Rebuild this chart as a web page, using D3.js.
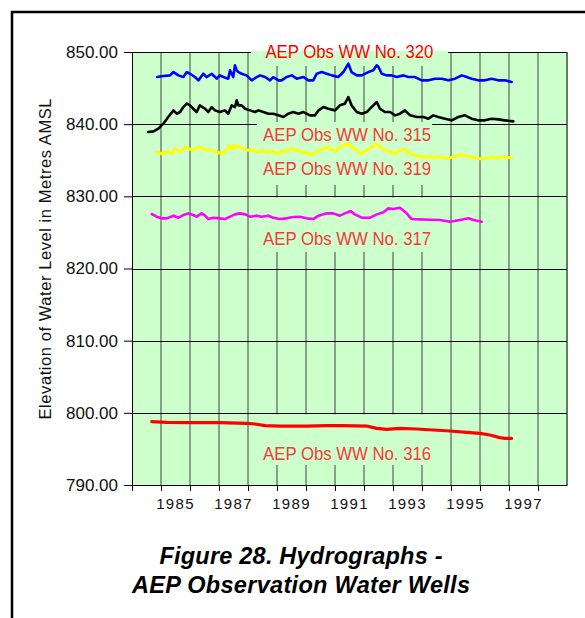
<!DOCTYPE html>
<html>
<head>
<meta charset="utf-8">
<script src="https://cdn.jsdelivr.net/npm/d3@7"></script>
<style>
  body { margin: 0; background: #fff; }
  svg text { font-family: "Liberation Sans", Arial, Helvetica, sans-serif; }
</style>
</head>
<body>
<div id="chart"></div>
<script>
// water levels: [decimal year, metres AMSL]
const ww320 = [[1984.87,846.53],[1985.08,846.67],[1985.31,846.76],[1985.43,847.22],[1985.60,846.76],[1985.77,846.53],[1985.89,847.22],[1986.0,846.99],[1986.17,846.53],[1986.29,846.07],[1986.46,846.99],[1986.57,846.53],[1986.75,846.99],[1986.92,846.30],[1987.03,846.76],[1987.15,846.53],[1987.32,846.30],[1987.38,847.46],[1987.49,846.53],[1987.55,848.15],[1987.61,847.46],[1987.67,847.22],[1987.78,846.99],[1987.95,846.76],[1988.13,846.07],[1988.30,846.53],[1988.41,846.76],[1988.59,846.53],[1988.76,846.07],[1988.87,846.53],[1989.05,846.07],[1989.16,846.07],[1989.33,846.53],[1989.51,846.76],[1989.68,846.30],[1989.91,846.53],[1990.08,846.07],[1990.25,846.07],[1990.37,846.99],[1990.54,847.22],[1990.71,846.99],[1990.89,846.76],[1991.11,846.53],[1991.29,847.22],[1991.46,848.38],[1991.57,847.22],[1991.75,846.76],[1991.92,846.76],[1992.15,847.22],[1992.32,847.46],[1992.44,848.15],[1992.50,847.92],[1992.61,846.99],[1992.78,846.76],[1992.95,846.76],[1993.13,846.53],[1993.36,846.76],[1993.53,846.53],[1993.76,846.53],[1993.99,846.07],[1994.22,846.07],[1994.45,846.30],[1994.68,846.30],[1994.91,846.07],[1995.14,846.30],[1995.37,846.76],[1995.54,846.53],[1995.71,846.30],[1995.94,846.07],[1996.17,846.07],[1996.40,846.30],[1996.63,846.07],[1996.86,846.07],[1997.09,845.84]];

const ww315 = [[1984.56,838.91],[1984.74,839.0],[1984.91,839.37],[1985.08,840.07],[1985.25,840.99],[1985.43,841.91],[1985.54,841.45],[1985.66,841.68],[1985.77,842.37],[1985.89,842.84],[1986.0,842.61],[1986.11,842.14],[1986.23,841.68],[1986.34,842.61],[1986.52,842.14],[1986.63,841.68],[1986.75,842.37],[1986.86,841.91],[1987.03,841.68],[1987.20,841.91],[1987.32,841.45],[1987.44,842.61],[1987.55,842.37],[1987.61,843.30],[1987.67,842.61],[1987.78,842.61],[1987.90,842.14],[1988.07,841.91],[1988.24,841.68],[1988.36,841.91],[1988.53,841.68],[1988.70,841.45],[1988.87,841.45],[1989.05,841.22],[1989.22,840.99],[1989.39,841.45],[1989.56,841.68],[1989.74,841.45],[1989.91,841.68],[1990.14,841.22],[1990.31,841.22],[1990.43,841.91],[1990.60,842.37],[1990.77,842.14],[1991.0,841.91],[1991.17,842.61],[1991.34,842.84],[1991.46,843.76],[1991.57,842.61],[1991.75,841.68],[1991.92,841.45],[1992.09,841.68],[1992.26,842.37],[1992.44,843.07],[1992.55,842.14],[1992.72,841.68],[1992.90,841.68],[1993.07,841.22],[1993.24,841.45],[1993.41,841.91],[1993.59,841.22],[1993.82,840.99],[1994.05,840.99],[1994.22,840.76],[1994.39,841.22],[1994.56,840.99],[1994.79,840.76],[1995.02,840.53],[1995.25,840.99],[1995.48,841.22],[1995.71,840.76],[1995.94,840.53],[1996.17,840.53],[1996.40,840.76],[1996.63,840.66],[1996.86,840.53],[1997.15,840.39]];

const ww319 = [[1984.85,836.14],[1985.02,835.91],[1985.20,836.23],[1985.37,835.91],[1985.48,836.60],[1985.66,836.14],[1985.83,836.83],[1985.94,836.60],[1986.11,836.37],[1986.29,836.83],[1986.40,836.69],[1986.57,836.37],[1986.75,836.37],[1986.92,836.14],[1987.09,835.91],[1987.26,836.37],[1987.38,837.06],[1987.49,836.60],[1987.61,837.06],[1987.72,836.83],[1987.84,836.60],[1988.01,836.37],[1988.18,836.37],[1988.30,836.14],[1988.47,836.37],[1988.64,836.14],[1988.82,836.23],[1988.99,835.91],[1989.16,836.14],[1989.33,836.37],[1989.51,836.60],[1989.68,836.37],[1989.91,836.14],[1990.08,835.91],[1990.25,835.91],[1990.43,836.37],[1990.60,836.60],[1990.77,836.83],[1990.83,836.60],[1991.0,836.23],[1991.17,836.83],[1991.34,837.16],[1991.46,837.29],[1991.57,836.83],[1991.75,836.37],[1991.92,835.91],[1992.09,836.37],[1992.26,836.83],[1992.44,837.29],[1992.55,836.83],[1992.72,836.37],[1992.90,836.14],[1993.07,835.91],[1993.24,836.37],[1993.41,836.51],[1993.59,835.91],[1993.76,835.68],[1993.99,835.45],[1994.33,835.45],[1994.62,835.45],[1994.85,835.22],[1995.08,835.45],[1995.31,835.77],[1995.48,835.68],[1995.71,835.45],[1995.94,835.22],[1996.17,835.22],[1996.40,835.45],[1996.63,835.31],[1996.86,835.45],[1997.09,835.31]];

const ww317 = [[1984.68,827.55],[1984.85,827.18],[1985.02,826.95],[1985.20,826.95],[1985.43,827.32],[1985.60,827.04],[1985.77,827.41],[1985.94,827.64],[1986.11,827.41],[1986.23,827.18],[1986.40,827.64],[1986.52,827.32],[1986.63,826.85],[1986.80,827.04],[1987.03,826.95],[1987.20,826.85],[1987.38,827.18],[1987.55,827.50],[1987.72,827.64],[1987.90,827.50],[1988.07,827.18],[1988.30,827.32],[1988.47,827.18],[1988.70,827.32],[1988.87,827.04],[1989.10,826.85],[1989.33,826.95],[1989.56,827.13],[1989.79,827.18],[1990.02,826.95],[1990.25,826.85],[1990.43,827.32],[1990.71,827.64],[1990.94,827.64],[1991.17,827.32],[1991.34,827.64],[1991.54,827.96],[1991.68,827.50],[1991.92,827.04],[1992.21,827.04],[1992.44,827.50],[1992.67,827.78],[1992.84,828.33],[1993.01,828.24],[1993.24,828.42],[1993.47,827.64],[1993.64,826.85],[1993.93,826.81],[1994.28,826.76],[1994.62,826.72],[1994.97,826.48],[1995.31,826.72],[1995.60,826.95],[1995.77,826.72],[1996.06,826.48]];

const ww316 = [[1984.68,798.77],[1985.20,798.68],[1986.0,798.63],[1987.03,798.63],[1987.95,798.54],[1988.24,798.45],[1988.59,798.22],[1989.10,798.17],[1990.02,798.17],[1990.71,798.22],[1991.29,798.22],[1992.09,798.17],[1992.44,797.85],[1992.78,797.71],[1993.24,797.85],[1993.82,797.76],[1994.39,797.62],[1994.97,797.48],[1995.54,797.30],[1996.0,797.16],[1996.34,796.93],[1996.68,796.56],[1996.86,796.46],[1997.09,796.46]];

const wellNames = ["AEP Obs WW No. 320", "AEP Obs WW No. 315", "AEP Obs WW No. 319", "AEP Obs WW No. 317", "AEP Obs WW No. 316"];
const yTicks = [790, 800, 810, 820, 830, 840, 850];
const yearLabels = [1985, 1987, 1989, 1991, 1993, 1995, 1997];
const captionLines = ["Figure 28. Hydrographs -", "AEP Observation Water Wells"];

const width = 585;
const height = 618;
const plot = { left: 132, top: 52, right: 567, bottom: 485 };

const svg = d3.select("#chart")
              .append("svg")
              .attr("width", width)
              .attr("height", height)

// outer frame (runs off the page on the right and bottom)
svg.append("rect")
   .attr("x", 12).attr("y", 12)
   .attr("width", 700).attr("height", 700)
   .attr("fill", "none")
   .attr("stroke", "#000")
   .attr("stroke-width", 2.5)

const x = d3.scaleLinear().domain([1984, 1999]).range([plot.left, plot.right]);
const y = d3.scaleLinear().domain([790, 850]).range([plot.bottom, plot.top]);

svg.append("rect")
   .attr("x", plot.left).attr("y", plot.top)
   .attr("width", plot.right - plot.left)
   .attr("height", plot.bottom - plot.top)
   .attr("fill", "#ccffcc")

// grid
const grid = svg.append("g").attr("stroke", "#000").attr("stroke-width", 1)
grid.selectAll(".vg")
    .data(d3.range(1985, 2000))
    .enter().append("line")
    .attr("x1", d => x(d)).attr("x2", d => x(d))
    .attr("y1", plot.top).attr("y2", plot.bottom)
    .attr("stroke", "#3a4a3a")
grid.selectAll(".hg")
    .data(yTicks)
    .enter().append("line")
    .attr("x1", plot.left).attr("x2", plot.right)
    .attr("y1", d => Math.round(y(d)) + 0.5).attr("y2", d => Math.round(y(d)) + 0.5)

// label boxes hide the grid behind each well name
const labelLayout = [
  { tx: 1988.6,  ty: 849.2,  box: [1988.1, 1994.9, 850.15, 848.06], fill: "#ff0000" },
  { tx: 1988.52, ty: 837.67, box: [1988.3, 1994.35, 840.3, 836.0], fill: "#f23a3a" },
  { tx: 1988.52, ty: 832.96, box: [1988.3, 1994.5, 836.0, 831.57], fill: "#f23a3a" },
  { tx: 1988.52, ty: 823.26, box: [1988.1, 1994.65, 829.85, 822.3], fill: "#f23a3a" },
  { tx: 1988.52, ty: 793.46, box: [1988.1, 1994.75, 799.8, 792.77], fill: "#f23a3a" }
];

svg.append("g").selectAll("rect")
   .data(labelLayout)
   .enter().append("rect")
   .attr("x", d => x(d.box[0]))
   .attr("y", d => y(d.box[2]))
   .attr("width", d => x(d.box[1]) - x(d.box[0]))
   .attr("height", d => y(d.box[3]) - y(d.box[2]))
   .attr("fill", "#ccffcc")

// axes
const yAxis = d3.axisLeft(y)
                .tickValues(yTicks)
                .tickFormat(d3.format(".2f"))
                .tickSize(8)
                .tickSizeOuter(0)
                .tickPadding(6)
svg.append("g")
   .attr("transform", `translate(${plot.left},0)`)
   .call(yAxis)
   .call(g => g.selectAll("text").attr("font-size", 17).attr("fill", "#111"))
   .call(g => g.selectAll("line, path").attr("stroke", "#000"))

const xAxis = d3.axisBottom(x)
                .tickValues(d3.range(1984, 1999))
                .tickFormat("")
                .tickSize(6)
                .tickSizeOuter(0)
svg.append("g")
   .attr("transform", `translate(0,${plot.bottom})`)
   .call(xAxis)
   .call(g => g.selectAll("line, path").attr("stroke", "#000"))

svg.append("g").selectAll("text")
   .data(yearLabels)
   .enter().append("text")
   .attr("x", d => x(d + 0.5))
   .attr("y", 509)
   .attr("text-anchor", "middle")
   .attr("font-size", 15)
   .attr("letter-spacing", 1.3)
   .attr("fill", "#111")
   .text(d => d)

// right edge of the plot
svg.append("line")
   .attr("x1", plot.right).attr("x2", plot.right)
   .attr("y1", plot.top).attr("y2", plot.bottom)
   .attr("stroke", "#3a4a3a")

// hydrographs
const line = d3.line().x(d => x(d[0])).y(d => y(d[1]))
const series = [
  { data: ww320, color: "#0000ff", w: 2.6 },
  { data: ww315, color: "#000000", w: 2.6 },
  { data: ww319, color: "#ffff00", w: 3 },
  { data: ww317, color: "#ff00ff", w: 2.6 },
  { data: ww316, color: "#ff0000", w: 3.2 }
]
svg.append("g").selectAll("path")
   .data(series)
   .enter().append("path")
   .attr("d", d => line(d.data))
   .attr("fill", "none")
   .attr("stroke", d => d.color)
   .attr("stroke-width", d => d.w)
   .attr("stroke-linejoin", "round")
   .attr("stroke-linecap", "round")

svg.append("g").selectAll("text")
   .data(labelLayout)
   .enter().append("text")
   .attr("x", d => x(d.tx))
   .attr("y", d => y(d.ty))
   .attr("font-size", 18)
   .attr("font-family", "'Open Sans', 'DejaVu Sans', sans-serif")
   .attr("font-weight", 300)
   .attr("fill", d => d.fill)
   .attr("textLength", 168)
   .attr("lengthAdjust", "spacingAndGlyphs")
   .text((d, i) => wellNames[i])

svg.append("text")
   .attr("transform", "translate(51,259) rotate(-90)")
   .attr("text-anchor", "middle")
   .attr("font-size", 16.5)
   .attr("fill", "#111")
   .attr("textLength", 321)
   .attr("lengthAdjust", "spacing")
   .text("Elevation of Water Level in Metres AMSL")

svg.append("g").selectAll("text")
   .data(captionLines)
   .enter().append("text")
   .attr("x", 301)
   .attr("y", (d, i) => 564 + i * 28.5)
   .attr("text-anchor", "middle")
   .attr("font-size", 23.5)
   .attr("font-weight", "bold")
   .attr("font-style", "italic")
   .attr("fill", "#000")
   .attr("textLength", (d, i) => i === 0 ? 283 : 338)
   .attr("lengthAdjust", "spacing")
   .text(d => d)
</script>
</body>
</html>
